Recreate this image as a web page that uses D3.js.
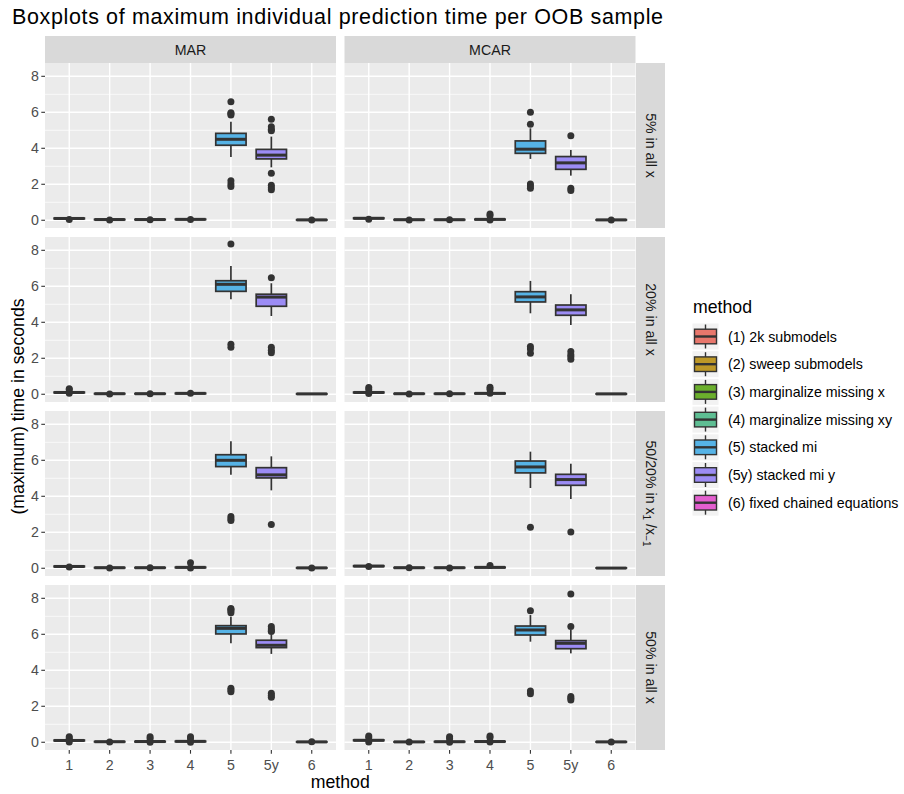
<!DOCTYPE html>
<html>
<head>
<meta charset="utf-8">
<script src="https://cdn.jsdelivr.net/npm/d3@7"></script>
<style>
  body { margin: 0; background: #fff; }
  text { font-family: "Liberation Sans", Arial, sans-serif; }
</style>
</head>
<body>
<script>
// categories
var methods = ["1", "2", "3", "4", "5", "5y", "6"];
var methodNames = ["(1) 2k submodels", "(2) sweep submodels", "(3) marginalize missing x",
  "(4) marginalize missing xy", "(5) stacked mi", "(5y) stacked mi y", "(6) fixed chained equations"];
var colors = ["#E8776C", "#BE9827", "#6BAF2C", "#5EBE93", "#56B3E6", "#9C8CF5", "#E35FCF"];
var mechanisms = ["MAR", "MCAR"];
var settings = ["5% in all x", "20% in all x", "5020", "50% in all x"];
var yTicks = [0, 2, 4, 6, 8];

// box stats per method: [lower whisker, q1, median, q3, upper whisker]
var mar5 = [[0.05,0.08,0.10,0.12,0.15],[0.01,0.03,0.04,0.05,0.07],[0.01,0.03,0.04,0.05,0.07],[0.02,0.04,0.05,0.06,0.08],
  [3.52,4.17,4.50,4.83,5.48],[2.94,3.41,3.62,3.94,4.65],[0,0.01,0.02,0.03,0.05]];
var mcar5 = [[0.06,0.09,0.11,0.13,0.16],[0,0.02,0.03,0.04,0.06],[0,0.02,0.03,0.04,0.06],[0.01,0.03,0.05,0.06,0.09],
  [3.41,3.72,3.95,4.41,5.11],[2.48,2.83,3.19,3.54,3.91],[0,0.01,0.02,0.03,0.04]];
var mar20 = [[0.06,0.08,0.10,0.12,0.15],[0,0.02,0.03,0.04,0.06],[0,0.02,0.03,0.04,0.06],[0.01,0.03,0.05,0.06,0.08],
  [5.28,5.72,6.11,6.31,7.13],[4.35,4.89,5.40,5.56,6.17],[0,0.01,0.02,0.03,0.04]];
var mcar20 = [[0.06,0.08,0.10,0.12,0.15],[0,0.02,0.03,0.04,0.06],[0,0.02,0.03,0.04,0.06],[0.01,0.03,0.05,0.06,0.08],
  [4.50,5.13,5.41,5.70,6.30],[3.85,4.39,4.69,4.96,5.56],[0,0.01,0.02,0.03,0.04]];
var mar5020 = [[0.06,0.08,0.10,0.12,0.15],[0,0.02,0.03,0.04,0.06],[0,0.02,0.03,0.04,0.06],[0.01,0.03,0.05,0.06,0.08],
  [5.20,5.65,6.00,6.31,7.06],[4.33,5.02,5.19,5.59,6.22],[0,0.01,0.02,0.03,0.05]];
var mcar5020 = [[0.08,0.10,0.12,0.14,0.17],[0,0.02,0.03,0.04,0.06],[0,0.02,0.03,0.04,0.06],[0.01,0.03,0.05,0.06,0.08],
  [4.46,5.30,5.63,5.96,6.48],[3.85,4.61,4.93,5.22,5.81],[0,0.01,0.01,0.02,0.03]];
var mar50 = [[0.06,0.08,0.10,0.12,0.15],[0,0.02,0.03,0.04,0.06],[0,0.02,0.04,0.05,0.07],[0.01,0.03,0.05,0.06,0.08],
  [5.50,6.02,6.33,6.48,6.98],[4.91,5.26,5.39,5.67,5.96],[0,0.01,0.02,0.03,0.05]];
var mcar50 = [[0.07,0.09,0.11,0.13,0.16],[0,0.01,0.02,0.03,0.05],[0,0.02,0.03,0.04,0.06],[0.01,0.03,0.04,0.05,0.08],
  [5.59,5.96,6.24,6.46,7.07],[4.94,5.20,5.50,5.65,6.24],[0,0.01,0.02,0.03,0.05]];

// outliers per method
var mar5Out = [[0.04],[0.02],[0.03],[0.04],[6.59,5.98,5.85,5.92,2.20,2.02,1.87],[5.61,5.20,5.05,4.98,2.61,1.94,1.80,1.69],[0.02]];
var mcar5Out = [[0.06],[0.02],[0.03],[0.35,0.25,0.02],[6.00,5.33,2.02,1.90,1.78],[4.70,1.78,1.65],[0.02]];
var mar20Out = [[0.31,0.25,0.06],[0.02],[0.03],[0.05],[8.35,2.78,2.61],[6.48,2.61,2.45,2.31],[]];
var mcar20Out = [[0.37,0.25,0.04],[0.02],[0.03],[0.39,0.28,0.05],[2.65,2.52,2.28],[2.37,2.20,2.09,1.94],[]];
var mar5020Out = [[0.07],[0.02],[0.03],[0.31,0.02],[2.87,2.75,2.65],[2.43],[0.02]];
var mcar5020Out = [[0.10],[0.03],[0.02],[0.15],[2.28],[2.02],[]];
var mar50Out = [[0.31,0.22,0.02],[0.02],[0.31,0.20,0.0],[0.31,0.20,0.0],[7.44,7.38,7.31,7.20,3.00,2.90,2.81],[6.43,6.30,6.20,6.15,2.72,2.60,2.50],[0.03]];
var mcar50Out = [[0.35,0.25,0.02],[0.02],[0.31,0.20,0.0],[0.35,0.25,0.02],[7.31,2.85,2.69],[8.24,6.43,2.54,2.45,2.35],[0.02]];

var stats = [[mar5, mcar5], [mar20, mcar20], [mar5020, mcar5020], [mar50, mcar50]];
var outs = [[mar5Out, mcar5Out], [mar20Out, mcar20Out], [mar5020Out, mcar5020Out], [mar50Out, mcar50Out]];

var width = 904, height = 794;
var colX = [45, 344.5], panelW = 291;
var rowY = [63, 237, 411, 585], panelH = 165;
var smallFont = 14.2, midFont = 17.7;

var svg = d3.select("body").append("svg")
  .attr("width", width)
  .attr("height", height);

svg.append("rect").attr("width", width).attr("height", height).attr("fill", "#fff");

svg.append("text")
  .attr("x", 12).attr("y", 24)
  .attr("font-size", 21.5)
  .attr("fill", "#000")
  .attr("textLength", 651).attr("lengthAdjust", "spacing")
  .text("Boxplots of maximum individual prediction time per OOB sample");

// column strips
mechanisms.forEach(function (m, c) {
  svg.append("rect")
    .attr("x", colX[c]).attr("y", 36)
    .attr("width", panelW).attr("height", 27)
    .attr("fill", "#D9D9D9");
  svg.append("text")
    .attr("x", colX[c] + panelW / 2).attr("y", 49.5)
    .attr("text-anchor", "middle").attr("dominant-baseline", "central")
    .attr("font-size", smallFont).attr("fill", "#1A1A1A")
    .text(m);
});

rowY.forEach(function (y0, r) {
  // right strip
  var sx = 636, sw = 29;
  svg.append("rect")
    .attr("x", sx).attr("y", y0)
    .attr("width", sw).attr("height", panelH)
    .attr("fill", "#D9D9D9");
  var st = svg.append("text")
    .attr("transform", "translate(" + (sx + sw / 2) + "," + (y0 + panelH / 2) + ") rotate(90)")
    .attr("text-anchor", "middle").attr("dominant-baseline", "central")
    .attr("font-size", smallFont).attr("fill", "#1A1A1A");
  if (settings[r] === "5020") {
    st.append("tspan").text("50/20% in x");
    st.append("tspan").attr("font-size", 10).attr("dy", 3.5).text("1");
    st.append("tspan").attr("dy", -3.5).text(" /x");
    st.append("tspan").attr("font-size", 10).attr("dy", 3.5).text("\u22121");
  } else {
    st.text(settings[r]);
  }

  var y = d3.scaleLinear().domain([-0.43, 8.74]).range([y0 + panelH, y0]);

  // y axis labels (left column only)
  var ya = svg.append("g");
  yTicks.forEach(function (t) {
    ya.append("line")
      .attr("x1", colX[0] - 3.7).attr("x2", colX[0])
      .attr("y1", y(t)).attr("y2", y(t))
      .attr("stroke", "#333").attr("stroke-width", 1.1);
    ya.append("text")
      .attr("x", colX[0] - 6).attr("y", y(t))
      .attr("text-anchor", "end").attr("dominant-baseline", "central")
      .attr("font-size", smallFont).attr("fill", "#4D4D4D")
      .text(t);
  });

  mechanisms.forEach(function (m, c) {
    var x = d3.scalePoint().domain(methods).range([colX[c], colX[c] + panelW]).padding(0.6);
    var bw = x.step() * 0.75;
    var g = svg.append("g");

    g.append("rect")
      .attr("x", colX[c]).attr("y", y0)
      .attr("width", panelW).attr("height", panelH)
      .attr("fill", "#EBEBEB");

    [1, 3, 5, 7].forEach(function (t) {
      g.append("line")
        .attr("x1", colX[c]).attr("x2", colX[c] + panelW)
        .attr("y1", y(t)).attr("y2", y(t))
        .attr("stroke", "#fff").attr("stroke-width", 0.7);
    });
    yTicks.forEach(function (t) {
      g.append("line")
        .attr("x1", colX[c]).attr("x2", colX[c] + panelW)
        .attr("y1", y(t)).attr("y2", y(t))
        .attr("stroke", "#fff").attr("stroke-width", 1.4);
    });
    methods.forEach(function (k) {
      g.append("line")
        .attr("x1", x(k)).attr("x2", x(k))
        .attr("y1", y0).attr("y2", y0 + panelH)
        .attr("stroke", "#fff").attr("stroke-width", 1.4);
    });

    var data = stats[r][c];
    var od = outs[r][c];

    var boxes = g.selectAll("g.box").data(data).enter().append("g");
    boxes.each(function (d, i) {
      var bg = d3.select(this);
      var cx = x(methods[i]);
      bg.append("line")
        .attr("x1", cx).attr("x2", cx)
        .attr("y1", y(d[4])).attr("y2", y(d[3]))
        .attr("stroke", "#333").attr("stroke-width", 1.7);
      bg.append("line")
        .attr("x1", cx).attr("x2", cx)
        .attr("y1", y(d[1])).attr("y2", y(d[0]))
        .attr("stroke", "#333").attr("stroke-width", 1.7);
      bg.append("rect")
        .attr("x", cx - bw / 2).attr("y", y(d[3]))
        .attr("width", bw).attr("height", Math.max(0.01, y(d[1]) - y(d[3])))
        .attr("fill", colors[i])
        .attr("stroke", "#333").attr("stroke-width", 1.7);
      bg.append("line")
        .attr("x1", cx - bw / 2).attr("x2", cx + bw / 2)
        .attr("y1", y(d[2])).attr("y2", y(d[2]))
        .attr("stroke", "#333").attr("stroke-width", 3);
      bg.selectAll("circle").data(od[i]).enter().append("circle")
        .attr("cx", cx)
        .attr("cy", function (v) { return y(v); })
        .attr("r", 3.5)
        .attr("fill", "#333");
    });

    // bottom axis on last row
    if (r === rowY.length - 1) {
      methods.forEach(function (k) {
        svg.append("line")
          .attr("x1", x(k)).attr("x2", x(k))
          .attr("y1", y0 + panelH).attr("y2", y0 + panelH + 3.7)
          .attr("stroke", "#333").attr("stroke-width", 1.1);
        svg.append("text")
          .attr("x", x(k)).attr("y", y0 + panelH + 15)
          .attr("text-anchor", "middle").attr("dominant-baseline", "central")
          .attr("font-size", smallFont).attr("fill", "#4D4D4D")
          .text(k);
      });
    }
  });
});

// axis titles
svg.append("text")
  .attr("x", (colX[0] + colX[1] + panelW) / 2).attr("y", 788)
  .attr("text-anchor", "middle")
  .attr("font-size", midFont).attr("fill", "#000")
  .text("method");

svg.append("text")
  .attr("transform", "translate(18," + (rowY[0] + (rowY[3] + panelH - rowY[0]) / 2) + ") rotate(-90)")
  .attr("text-anchor", "middle").attr("dominant-baseline", "central")
  .attr("font-size", midFont).attr("fill", "#000")
  .text("(maximum) time in seconds");

// legend
var lg = svg.append("g");
lg.append("text")
  .attr("x", 693).attr("y", 313)
  .attr("font-size", midFont).attr("fill", "#000")
  .text("method");

methodNames.forEach(function (name, i) {
  var cy = 336.5 + i * 27.7;
  lg.append("rect")
    .attr("x", 692.5).attr("y", cy - 13)
    .attr("width", 26).attr("height", 26)
    .attr("fill", "#F2F2F2");
  lg.append("line")
    .attr("x1", 705.5).attr("x2", 705.5)
    .attr("y1", cy - 12).attr("y2", cy + 12)
    .attr("stroke", "#333").attr("stroke-width", 1.4);
  lg.append("rect")
    .attr("x", 694.5).attr("y", cy - 7.3)
    .attr("width", 22).attr("height", 14.6)
    .attr("fill", colors[i])
    .attr("stroke", "#333").attr("stroke-width", 1.4);
  lg.append("line")
    .attr("x1", 694.5).attr("x2", 716.5)
    .attr("y1", cy).attr("y2", cy)
    .attr("stroke", "#333").attr("stroke-width", 2.4);
  lg.append("text")
    .attr("x", 728).attr("y", cy)
    .attr("dominant-baseline", "central")
    .attr("font-size", smallFont).attr("fill", "#000")
    .text(name);
});
</script>
</body>
</html>
